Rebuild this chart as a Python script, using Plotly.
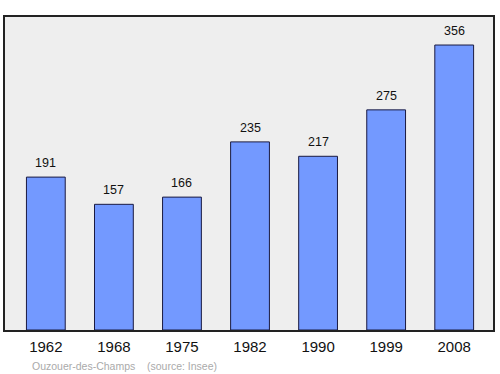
import plotly.graph_objects as go

years = ["1962", "1968", "1975", "1982", "1990", "1999", "2008"]
population = [191, 157, 166, 235, 217, 275, 356]
footer_text = "Ouzouer-des-Champs    (source: Insee)"

fig = go.Figure()
fig.add_trace(go.Bar(
    x=years, y=population, width=0.57,
    marker=dict(color="#7399ff", line=dict(color="#1a1a40", width=1)),
    hoverinfo="skip",
))
for i, v in enumerate(population):
    fig.add_annotation(x=i, y=v, text=str(v), showarrow=False,
                       yanchor="bottom", yshift=5,
                       font=dict(family="Liberation Sans, Arial", size=12.5, color="#111"))
fig.add_annotation(xref="paper", yref="paper", x=0.051, y=-0.115, xanchor="left", yanchor="middle",
                   text=footer_text, showarrow=False,
                   font=dict(family="Liberation Sans, Arial", size=10.5, color="#aaaaaa"))

fig.update_layout(
    width=500, height=374,
    margin=dict(l=5, r=5, t=17, b=44),
    paper_bgcolor="white", plot_bgcolor="#eeeeee",
    showlegend=False,
    font=dict(family="Liberation Sans, Arial", color="#111"),
)
fig.update_xaxes(type="category", range=[-0.6, 6.57], showgrid=False,
                 showline=True, linecolor="#222", linewidth=1.5, mirror=True,
                 ticks="", tickfont=dict(size=15), ticklabelstandoff=2)
fig.update_yaxes(range=[0, 391], showgrid=False, showticklabels=False, zeroline=False,
                 showline=True, linecolor="#222", linewidth=1.5, mirror=True, ticks="")

fig.write_html("out.html")
